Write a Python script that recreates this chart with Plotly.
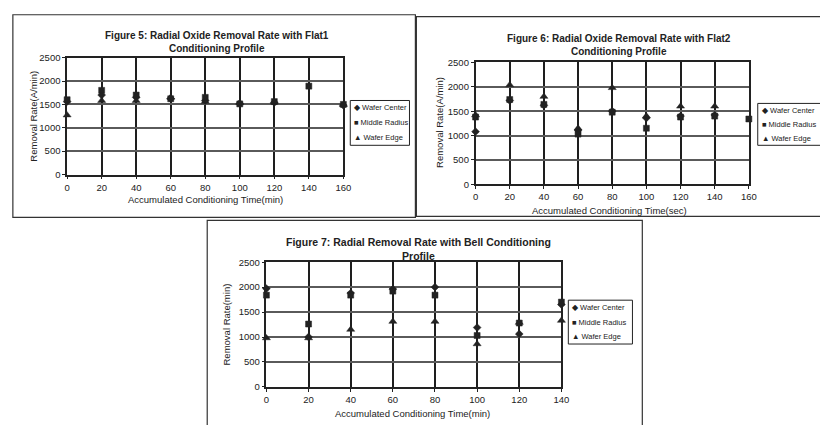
import plotly.graph_objects as go

W, H = 820, 425

# ---- Figure 5: Flat1 conditioning profile ----
flat1_time = [0, 20, 40, 60, 80, 100, 120, 140, 160]
flat1_center = [1560, 1700, 1650, 1620, 1580, 1520, 1540, None, 1480]
flat1_middle = [1600, 1800, 1700, 1620, 1650, 1510, 1560, 1890, 1500]
flat1_edge = [1270, 1580, 1580, 1650, 1560, 1530, 1550, None, 1490]

# ---- Figure 6: Flat2 conditioning profile ----
flat2_time = [0, 20, 40, 60, 80, 100, 120, 140, 160]
flat2_center = [1080, 1720, 1620, 1110, 1500, 1360, 1400, 1420, None]
flat2_middle = [1380, 1740, 1640, 1030, 1480, 1150, 1380, 1400, 1340]
flat2_edge = [1420, 2040, 1800, 1150, 1980, 1400, 1600, 1600, None]

# ---- Figure 7: Bell conditioning profile ----
bell_time = [0, 20, 40, 60, 80, 100, 120, 140]
bell_center = [1970, 1000, 1880, 1960, 2000, 1190, 1060, 1650]
bell_middle = [1840, 1260, 1840, 1920, 1840, 1030, 1280, 1700]
bell_edge = [980, 980, 1150, 1310, 1310, 860, 1290, 1330]

series_names = ["Wafer Center", "Middle Radius", "Wafer Edge"]
series_symbols = ["diamond", "square", "triangle-up"]
series_sizes = [6, 6, 7]
legend_glyphs = ["\u25c6", "\u25a0", "\u25b2"]

titles = [
    "Figure 5: Radial Oxide Removal Rate with Flat1<br>Conditioning Profile",
    "Figure 6: Radial Oxide Removal Rate with Flat2<br>Conditioning Profile",
    "Figure 7: Radial Removal Rate with Bell Conditioning<br>Profile",
]
x_titles = [
    "Accumulated Conditioning Time(min)",
    "Accumulated Conditioning Time(sec)",
    "Accumulated Conditioning Time(min)",
]
y_titles = ["Removal Rate(A/min)", "Removal Rate(A/min)", "Removal Rate(min)"]
y_ticks = [0, 500, 1000, 1500, 2000, 2500]

FONT = "Liberation Sans, Arial, sans-serif"
INK = "#222222"


def px(x):
    return x / W


def py(y):
    return 1 - y / H


# panel geometry in page pixels: plot box, title, axis titles, legend box, frame
panels = [
    dict(plot=(65, 345, 53, 173), xmax=160, title=(217, 37, 10),
         xt=(205, 199), yt=(30, 113), leg=(352, 412, 97, 143),
         frame=(10, 418, 9, 217),
         data=(flat1_time, [flat1_center, flat1_middle, flat1_edge])),
    dict(plot=(479, 756, 58, 183), xmax=160, title=(624, 40, 10),
         xt=(615, 210), yt=(443, 120), leg=(765, 840, 100, 143),
         frame=(419, 840, 11, 216),
         data=(flat2_time, [flat2_center, flat2_middle, flat2_edge])),
    dict(plot=(267, 566, 263, 391), xmax=140, title=(421, 249, 10.5),
         xt=(415, 418), yt=(227, 327), leg=(573, 638, 302, 347),
         frame=(207, 648, 220, 440),
         data=(bell_time, [bell_center, bell_middle, bell_edge])),
]

fig = go.Figure()
shapes = []
annotations = []
layout_axes = {}

for i, p in enumerate(panels):
    n = "" if i == 0 else str(i + 1)
    xa, ya = "x" + n, "y" + n
    x0, x1, ytop, ybot = p["plot"]
    times, values = p["data"]

    for name, sym, size, vals in zip(series_names, series_symbols, series_sizes, values):
        fig.add_trace(go.Scatter(
            x=times, y=vals, mode="markers", name=name, showlegend=False,
            xaxis=xa, yaxis=ya, cliponaxis=False,
            marker=dict(symbol=sym, size=size, color=INK,
                        line=dict(color=INK, width=0.5)),
        ))

    layout_axes["xaxis" + n] = dict(
        domain=[px(x0), px(x1)], anchor=ya, range=[0, p["xmax"]], dtick=20,
        showgrid=True, gridcolor="#1e1e1e", gridwidth=2,
        showline=True, linecolor=INK, linewidth=1.5, mirror=True,
        ticks="outside", ticklen=3, tickcolor=INK, zeroline=False,
        tickfont=dict(family=FONT, size=9.5, color=INK), fixedrange=True,
    )
    layout_axes["yaxis" + n] = dict(
        domain=[py(ybot), py(ytop)], anchor=xa, range=[0, 2500],
        tickvals=y_ticks, showgrid=True, gridcolor="#5a5a5a", gridwidth=1.5,
        showline=True, linecolor=INK, linewidth=1.5, mirror=True,
        ticks="outside", ticklen=3, tickcolor=INK, zeroline=False,
        tickfont=dict(family=FONT, size=9.5, color=INK), fixedrange=True,
    )

    # chart title
    tx, ty, tsize = p["title"]
    annotations.append(dict(
        text="<b>" + titles[i] + "</b>", xref="paper", yref="paper",
        x=px(tx), y=py(ty), xanchor="center", yanchor="middle",
        showarrow=False, align="center",
        font=dict(family=FONT, size=tsize, color=INK),
    ))
    # axis titles
    annotations.append(dict(
        text=x_titles[i], xref="paper", yref="paper",
        x=px(p["xt"][0]), y=py(p["xt"][1]), xanchor="center", yanchor="middle",
        showarrow=False, font=dict(family=FONT, size=9.5, color=INK),
    ))
    annotations.append(dict(
        text=y_titles[i], xref="paper", yref="paper", textangle=-90,
        x=px(p["yt"][0]), y=py(p["yt"][1]), xanchor="center", yanchor="middle",
        showarrow=False, font=dict(family=FONT, size=9.5, color=INK),
    ))

    # legend box and entries
    lx0, lx1, ly0, ly1 = p["leg"]
    shapes.append(dict(type="rect", xref="paper", yref="paper",
                       x0=px(lx0), x1=px(lx1), y0=py(ly1), y1=py(ly0),
                       line=dict(color=INK, width=1), fillcolor="white",
                       layer="above"))
    step = (ly1 - ly0) / 3
    for k, (g, name) in enumerate(zip(legend_glyphs, series_names)):
        annotations.append(dict(
            text=g + " " + name, xref="paper", yref="paper",
            x=px(lx0 + 2), y=py(ly0 + step * (k + 0.5)),
            xanchor="left", yanchor="middle", showarrow=False,
            font=dict(family=FONT, size=7.5, color=INK),
        ))

    # panel frame
    fx0, fx1, fy0, fy1 = p["frame"]
    shapes.append(dict(type="rect", xref="paper", yref="paper",
                       x0=px(fx0), x1=px(fx1), y0=py(fy1), y1=py(fy0),
                       line=dict(color="#333333", width=1.2), layer="below"))

fig.update_layout(
    width=W, height=H, autosize=False,
    margin=dict(l=0, r=0, t=0, b=0),
    paper_bgcolor="white", plot_bgcolor="white",
    showlegend=False,
    shapes=shapes, annotations=annotations,
    **layout_axes,
)

fig.write_html("out.html", config={"displayModeBar": False})
